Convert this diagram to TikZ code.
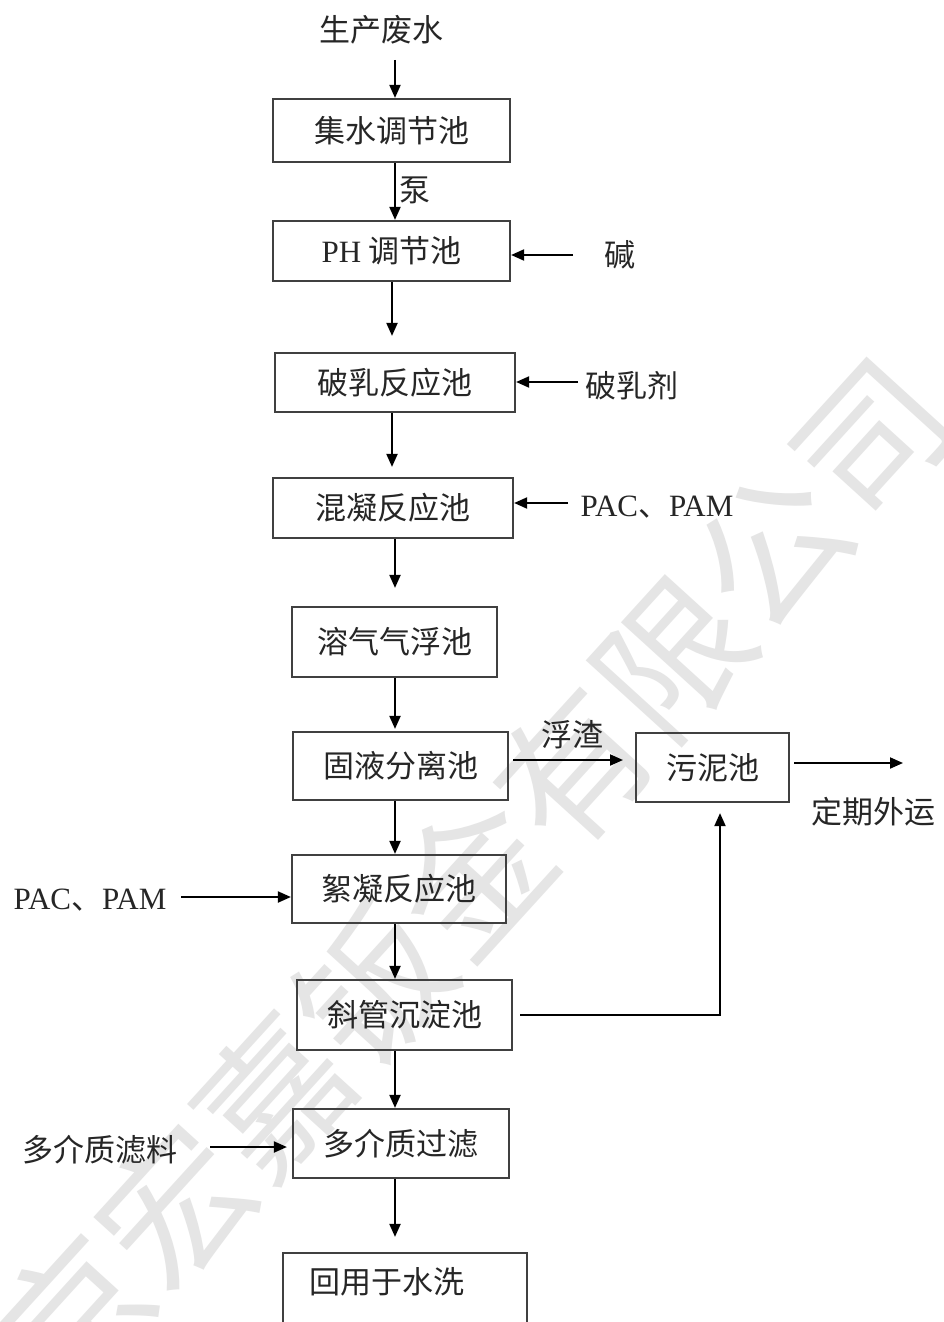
\documentclass[tikz,border=0pt]{standalone}
\usepackage{fontspec}
\setmainfont{Liberation Serif}
\newfontfamily\cjkf{Noto Sans CJK SC}
\usetikzlibrary{arrows.meta,calc}
\tikzset{
  box/.style={draw=black!75, line width=2.2pt, rectangle, inner sep=0pt, text=black!85,
    font=\cjkf\fontsize{31}{37}\selectfont},
  lbl/.style={inner sep=0pt, text=black!85, font=\cjkf\fontsize{31}{37}\selectfont},
  arr/.style={line width=2pt, draw=black, -{Triangle[length=13pt,width=11pt]}},
  wmark/.style={inner sep=0pt, text=black!10, font=\cjkf\fontsize{148}{150}\selectfont}
}
\begin{document}
\begin{tikzpicture}[x=1pt,y=-1pt]
\useasboundingbox (0,0) rectangle (944,1322);
\clip (0,0) rectangle (944,1322);
\fill[white] (0,0) rectangle (944,1322);
% watermark
\node[wmark, rotate=47.7] (wm) at (473,877) {京宏嘉钣金有限公司};
% boxes
\node[box, minimum width=237pt, minimum height=63pt] (b1) at (391.5,130.5) {集水调节池};
\node[box, minimum width=237pt, minimum height=60pt] (b2) at (391.5,251) {{\rmfamily PH} 调节池};
\node[box, minimum width=240pt, minimum height=59pt] (b3) at (395,382.5) {破乳反应池};
\node[box, minimum width=240pt, minimum height=60pt] (b4) at (393,508) {混凝反应池};
\node[box, minimum width=205pt, minimum height=70pt] (b5) at (394.5,642) {溶气气浮池};
\node[box, minimum width=215pt, minimum height=68pt] (b6) at (400.5,766) {固液分离池};
\node[box, minimum width=214pt, minimum height=68pt] (b7) at (399,889) {絮凝反应池};
\node[box, minimum width=215pt, minimum height=70pt] (b8) at (404.5,1015) {斜管沉淀池};
\node[box, minimum width=216pt, minimum height=69pt] (b9) at (401,1143.5) {多介质过滤};
\node[box, minimum width=153pt, minimum height=69pt] (s) at (712.5,767.5) {污泥池};
\node[box, minimum width=244pt, minimum height=100pt] (b10) at (405,1303) {};
\node[lbl, anchor=west] (t10) at (309,1282) {回用于水洗};
% labels
\node[lbl] (in) at (381,30) {生产废水};
\node[lbl] (pump) at (415,190) {泵};
\node[lbl] (alk) at (620,255) {碱};
\node[lbl] (dem) at (632,386) {破乳剂};
\node[lbl] (pac1) at (657,507) {{\rmfamily PAC}、{\rmfamily PAM}};
\node[lbl] (scum) at (572,735) {浮渣};
\node[lbl] (out) at (873,812) {定期外运};
\node[lbl] (pac2) at (90,900) {{\rmfamily PAC}、{\rmfamily PAM}};
\node[lbl] (med) at (100,1150) {多介质滤料};
% connectors
\coordinate (ax) at (395,0);
\coordinate (ax2) at (392,0);
\coordinate (c0) at (395,60);
\draw[arr] (c0) -- (c0 |- b1.north);
\draw[arr] (b1.south -| ax) -- (b2.north -| ax);
\draw[arr, shorten >=16pt] (b2.south -| ax2) -- (b3.north -| ax2);
\draw[arr, shorten >=10pt] (b3.south -| ax2) -- (b4.north -| ax2);
\draw[arr, shorten >=18pt] (b4.south -| ax) -- (b5.north -| ax);
\draw[arr, shorten >=2pt] (b5.south -| ax) -- (b6.north -| ax);
\draw[arr] (b6.south -| ax) -- (b7.north -| ax);
\draw[arr] (b7.south -| ax) -- (b8.north -| ax);
\draw[arr] (b8.south -| ax) -- (b9.north -| ax);
\draw[arr, shorten >=15pt] (b9.south -| ax) -- (b10.north -| ax);
\coordinate (kc) at (573,255);
\draw[arr] (kc) -- (kc -| b2.east);
\coordinate (dc) at (578,382);
\draw[arr] (dc) -- (dc -| b3.east);
\coordinate (pc) at (568,503);
\draw[arr] (pc) -- (pc -| b4.east);
\coordinate (fc) at (623,760);
\draw[arr, shorten <=4pt] (fc -| b6.east) -- (fc);
\coordinate (oc) at (903,763);
\draw[arr, shorten <=4pt] (oc -| s.east) -- (oc);
\coordinate (plc) at (181,897);
\draw[arr] (plc) -- (plc -| b7.west);
\coordinate (mc) at (210,1147);
\draw[arr, shorten >=5pt] (mc) -- (mc -| b9.west);
\coordinate (rc) at (720,1015);
\draw[arr, shorten <=7pt, shorten >=10pt] (rc -| b8.east) -- (rc) -- (rc |- s.south);
\end{tikzpicture}
\end{document}
